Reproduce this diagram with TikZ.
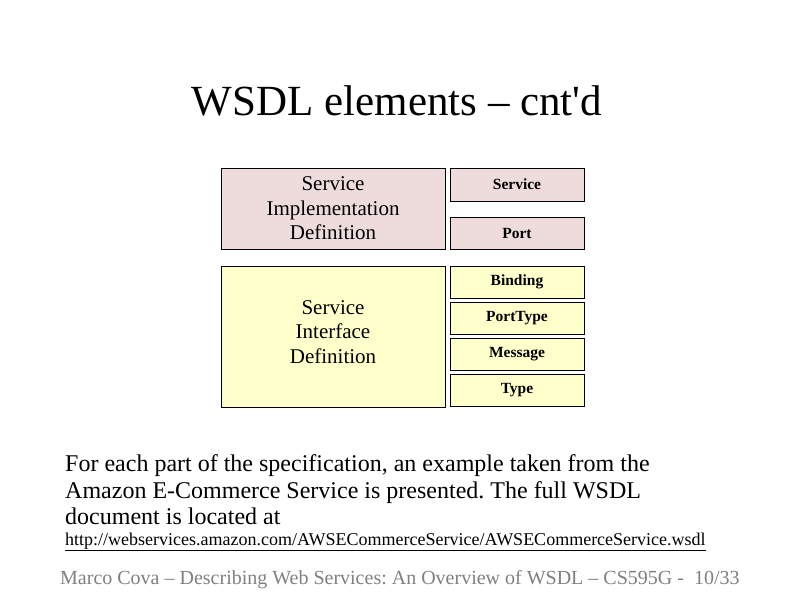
\documentclass[tikz,border=0pt]{standalone}
\usepackage{fontspec}
\setmainfont{Liberation Serif}
\newfontfamily\plainserif{Liberation Serif}
\frenchspacing
\definecolor{pinkfill}{HTML}{EEDCDC}
\definecolor{yelfill}{HTML}{FFFFCC}
\definecolor{footgray}{HTML}{808080}
\begin{document}
\begin{tikzpicture}[x=1pt,y=-1pt,
  bigbox/.style={draw=black,line width=0.8pt,inner sep=0pt,align=center,font=\fontsize{21}{24.5}\selectfont},
  smallbox/.style={draw=black,line width=0.8pt,inner sep=0pt,align=center,font=\fontsize{15.5}{17}\selectfont\bfseries},
  pinkbox/.style={fill=pinkfill},
  yelbox/.style={fill=yelfill},
  bodytext/.style={anchor=base west,align=left,inner sep=0pt,font=\fontsize{24}{27}\selectfont}]
\useasboundingbox[fill=white] (0,0) rectangle (794,595);
\node[anchor=base,inner sep=0pt] (title) at (397,115) {\plainserif\fontsize{43}{46}\selectfont WSDL elements – cnt'd};
% implementation
\node[bigbox,pinkbox,minimum width=224pt,minimum height=81pt] (impl) at (333,208.5) {Service\\Implementation\\Definition};
\node[smallbox,pinkbox,minimum width=134pt,minimum height=33pt] (service) at (517,184.5) {Service};
\node[smallbox,pinkbox,minimum width=134pt,minimum height=32pt] (port) at (517,233) {Port};
% interface
\node[bigbox,yelbox,minimum width=224pt,minimum height=141pt] (iface) at (333,336.5) {};
\node[align=center,inner sep=0pt,font=\fontsize{21}{24.5}\selectfont] (ifacetext) at (333,332) {Service\\Interface\\Definition};
\node[smallbox,yelbox,minimum width=134pt,minimum height=32pt] (binding) at (517,282) {Binding};
\node[smallbox,yelbox,minimum width=134pt,minimum height=32pt] (porttype) at (517,318) {PortType};
\node[smallbox,yelbox,minimum width=134pt,minimum height=32pt] (message) at (517,354) {Message};
\node[smallbox,yelbox,minimum width=134pt,minimum height=32pt] (type) at (517,390) {Type};
% body text
\node[bodytext] (body1) at (65,471) {For each part of the specification, an example taken from the};
\node[bodytext] (body2) at (65,498) {Amazon E-Commerce Service is presented. The full WSDL};
\node[bodytext] (body3) at (65,524) {document is located at};
\node[anchor=base west,inner sep=0pt,font=\fontsize{18}{20}\selectfont] (url) at (65,545) {\underline{http://webservices.amazon.com/AWSECommerceService/AWSECommerceService.wsdl}};
\node[anchor=base west,inner sep=0pt,text=footgray,font=\fontsize{20}{24}\selectfont] (foot) at (60,584) {Marco Cova – Describing Web Services: An Overview of WSDL – CS595G -\ \ 10/33};
\end{tikzpicture}
\end{document}
